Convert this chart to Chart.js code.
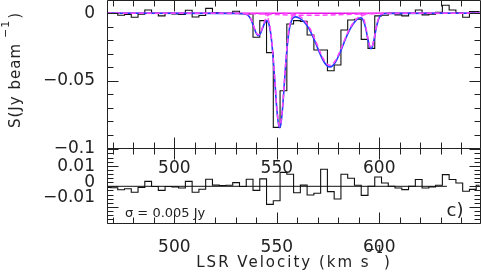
<!DOCTYPE html>
<html>
<head>
<meta charset="utf-8">
<script src="https://cdn.jsdelivr.net/npm/chart.js@4.4.1/dist/chart.umd.min.js"></script>
<style>
  html, body { margin: 0; padding: 0; background: #fff; }
  #wrap { position: relative; width: 481px; height: 273px; }
  #wrap canvas { position: absolute; left: 0; top: 0; }
</style>
</head>
<body>
<div id="wrap">
  <canvas id="specChart" width="481" height="273"></canvas>
  <canvas id="residChart" width="481" height="273"></canvas>
</div>
<script>
// channel centres (km/s)
const velocity = [467.45, 470.75, 474.05, 477.35, 480.65, 483.95, 487.25, 490.55, 493.85, 497.15,
  500.45, 503.75, 507.05, 510.35, 513.65, 516.95, 520.25, 523.55, 526.85, 530.15,
  533.45, 536.75, 540.05, 543.35, 546.65, 549.95, 553.25, 556.55, 559.85, 563.15,
  566.45, 569.75, 573.05, 576.35, 579.65, 582.95, 586.25, 589.55, 592.85, 596.15,
  599.45, 602.75, 606.05, 609.35, 612.65, 615.95, 619.25, 622.55, 625.85, 629.15,
  632.45, 635.75, 639.05, 642.35, 645.65, 648.95];

// observed spectrum (Jy/beam)
const spectrum = [0.0, 0.0, -0.0015, -0.001, -0.003, -0.0008, 0.0024, 0.0, -0.002, 0.0,
  -0.0005, -0.001, 0.0022, -0.0028, -0.0017, 0.0036, 0.0005, 0.0, 0.0, 0.0015,
  -0.0004, -0.0006, -0.0178, -0.0055, -0.0291, -0.0844, -0.0573, -0.008, -0.0055, -0.006,
  -0.0161, -0.0272, -0.0272, -0.0425, -0.0383, -0.0124, -0.005, -0.0045, -0.0193, -0.026,
  -0.002, -0.0015, 0.0, -0.0012, -0.002, 0.0, 0.0024, -0.0012, -0.0008, 0.0007,
  0.0059, 0.0024, 0.0004, -0.003, 0.0012, 0.0012];

// residuals (Jy/beam)
const residual = [-0.0005, -0.0007, -0.0017, -0.0012, -0.0029, -0.0005, 0.0024, -0.0001, -0.002, -0.0001,
  -0.0003, -0.0008, 0.0024, -0.0029, -0.0014, 0.0034, 0.0006, 0.0004, 0.0005, 0.0018,
  -0.0001, 0.0034, -0.002, 0.0036, -0.0088, -0.007, 0.0068, 0.0059, -0.0031, 0.0006,
  -0.0042, -0.0034, 0.0083, -0.0026, -0.0062, 0.0059, 0.0039, 0.0005, -0.0044, 0.0,
  0.0045, 0.0016, 0.0, -0.0008, -0.0016, 0.0, 0.0033, -0.0008, -0.0003, 0.0005,
  0.0057, 0.0033, 0.0016, -0.0024, -0.0015, 0.0005];

// total fit (blue)
const fitVelocity = [467, 520, 530, 534, 536, 537.5, 539, 540, 541, 542, 543, 544, 545, 546, 547, 548, 549, 550,
  550.8, 551.4, 552, 552.8, 553.8, 554.8, 556, 557.5, 559, 561, 563, 565, 567, 569, 571, 573, 574.5,
  575.9, 577.3, 579, 581, 583, 585, 587, 589, 591, 592.5, 593.5, 594.5, 595.3, 596, 596.7, 597.5,
  598.5, 599.5, 601, 603, 610, 649];
const fitFlux = [0, -0.0001, -0.0002, -0.0004, -0.0016, -0.0049, -0.0111, -0.0149, -0.0166, -0.015, -0.0113,
  -0.0075, -0.0055, -0.0073, -0.0146, -0.029, -0.0494, -0.0704, -0.0817, -0.0846, -0.0818, -0.0705,
  -0.0497, -0.0293, -0.0128, -0.0043, -0.0027, -0.0036, -0.0059, -0.0097, -0.0152, -0.0222, -0.0297,
  -0.0359, -0.0388, -0.0398, -0.0388, -0.0352, -0.0286, -0.021, -0.014, -0.0086, -0.0048, -0.0034,
  -0.0063, -0.0119, -0.0196, -0.0245, -0.0262, -0.0244, -0.0193, -0.0112, -0.0051, -0.001, -0.0002,
  -0.0001, 0];

// single components (magenta dashed), [velocity, flux]
const compNarrow = [[534, 0], [536, -0.0012], [537.5, -0.0045], [539, -0.0106], [540, -0.0144], [541, -0.016],
  [542, -0.0144], [543, -0.0106], [544, -0.0063], [545, -0.0031], [546, -0.0012], [547, -0.0004], [549, 0]];
const compDeep = [[543, -0.0001], [544, -0.0005], [545, -0.0017], [546, -0.0053], [547, -0.0134], [548, -0.028],
  [549, -0.0485], [550, -0.0694], [550.8, -0.0807], [551.4, -0.0835], [552, -0.0807], [552.8, -0.0694],
  [553.8, -0.0485], [554.8, -0.028], [556, -0.0113], [557.5, -0.0025], [559, -0.0004], [561, 0]];
const compBroad = [[553, 0], [556, -0.0002], [559, -0.0009], [561, -0.0021], [563, -0.0044], [565, -0.0082],
  [567, -0.0137], [569, -0.0207], [571, -0.0282], [573, -0.0345], [574.5, -0.0375], [575.9, -0.0385],
  [577.3, -0.0375], [579, -0.034], [581, -0.0275], [583, -0.02], [585, -0.0131], [587, -0.0078],
  [589, -0.0041], [591, -0.002], [593.5, -0.0007], [597, -0.0002], [600, 0]];
const compRed = [[590, 0], [591, -0.0008], [592.5, -0.0047], [593.5, -0.0107], [594.5, -0.0187], [595.3, -0.0238],
  [596, -0.0255], [596.7, -0.0238], [597.5, -0.0187], [598.5, -0.0107], [599.5, -0.0047], [601, -0.0008], [602, 0]];
const compWide = [[467, 0], [520, -0.0001], [530, -0.0002], [540, -0.0005], [550, -0.001], [558, -0.0014],
  [566, -0.0015], [574, -0.0014], [582, -0.001], [592, -0.0005], [602, -0.0002], [612, -0.0001], [649, 0]];

const baselineVel = [467.4, 649.4];
const residLineVel = [467.4, 633];

const xTicks = [500, 550, 600];
const specTicks = [-0.1, -0.05, 0];
const residTicks = [-0.01, 0, 0.01];

const X_MIN = 467.4, X_MAX = 649.4;
const FONT = "'DejaVu Sans', sans-serif";
const INK = '#222';

function pairs(list) {
    return list.map(p => ({ x: p[0], y: p[1] }));
}

function fmt(v) {
    if (v === 0) return '0';
    return (v < 0 ? '\u2212' : '') + String(Math.abs(v));
}

// frame + inward tick marks
const framePlugin = {
    id: 'frame',
    afterDatasetsDraw(chart, args, opts) {
        const { ctx, chartArea: a, scales } = chart;
        const xs = scales.x, ys = scales.y;
        ctx.save();
        ctx.strokeStyle = INK;
        ctx.lineWidth = 1;
        ctx.beginPath();
        ctx.rect(a.left, a.top, a.right - a.left, a.bottom - a.top);
        for (let k = 47; k <= 64; k++) {
            const v = k * 10;
            const len = v % 50 === 0 ? 11 : 6;
            const px = Math.round(xs.getPixelForValue(v)) + 0.5;
            ctx.moveTo(px, a.top); ctx.lineTo(px, a.top + len);
            ctx.moveTo(px, a.bottom); ctx.lineTo(px, a.bottom - len);
        }
        for (let k = opts.from; k <= opts.to; k++) {
            const len = k % opts.majorEvery === 0 ? 11 : 6;
            const py = Math.round(ys.getPixelForValue(k * opts.step)) + 0.5;
            ctx.moveTo(a.left, py); ctx.lineTo(a.left + len, py);
            ctx.moveTo(a.right, py); ctx.lineTo(a.right - len, py);
        }
        ctx.stroke();
        ctx.restore();
    }
};

// axis titles and panel notes
const textPlugin = {
    id: 'notes',
    afterDraw(chart) {
        const { ctx, chartArea: a } = chart;
        ctx.save();
        ctx.fillStyle = INK;
        ctx.textAlign = 'left';
        ctx.textBaseline = 'alphabetic';

        // x title
        const main = 'LSR Velocity (km s';
        ctx.font = '15px ' + FONT;
        ctx.letterSpacing = '2px';
        const wMain = ctx.measureText(main).width;
        const wParen = ctx.measureText(')').width;
        ctx.font = '11px ' + FONT;
        ctx.letterSpacing = '1px';
        const wSup = ctx.measureText('\u22121').width;
        const total = wMain - 5 + wSup + wParen;
        let x0 = (a.left + a.right) / 2 - total / 2;
        ctx.font = '15px ' + FONT;
        ctx.letterSpacing = '2px';
        ctx.fillText(main, x0, 266.5);
        ctx.font = '11px ' + FONT;
        ctx.letterSpacing = '1px';
        ctx.fillText('\u22121', x0 + wMain - 5, 253);
        ctx.font = '15px ' + FONT;
        ctx.letterSpacing = '2px';
        ctx.fillText(')', x0 + wMain - 5 + wSup, 266.5);

        // y title
        ctx.save();
        ctx.translate(19.5, 128);
        ctx.rotate(-Math.PI / 2);
        ctx.font = '15px ' + FONT;
        ctx.letterSpacing = '1px';
        const yMain = 'S(Jy beam';
        const wy = ctx.measureText(yMain).width;
        ctx.fillText(yMain, 0, 0);
        ctx.font = '11px ' + FONT;
        const wys = ctx.measureText('\u22121').width;
        ctx.fillText('\u22121', wy + 5, -11);
        ctx.font = '15px ' + FONT;
        ctx.fillText(')', wy + 6 + wys, 0);
        ctx.restore();

        ctx.letterSpacing = '0px';
        ctx.font = '13px ' + FONT;
        ctx.fillText('\u03c3 = 0.005 Jy', a.left + 17.5, 217);
        ctx.font = '18px ' + FONT;
        ctx.fillText('c)', a.right - 34, 216);
        ctx.restore();
    }
};

function xScale(pad) {
    return {
        type: 'linear',
        min: X_MIN,
        max: X_MAX,
        bounds: 'data',
        grid: { display: false, drawTicks: false },
        border: { display: false },
        ticks: { font: { family: FONT, size: 17 }, color: INK, padding: pad, maxRotation: 0,
            callback: v => String(v) },
        afterBuildTicks: s => { s.ticks = xTicks.map(v => ({ value: v })); },
        afterFit: s => { s.height = 40; s.paddingLeft = 0; s.paddingRight = 0; }
    };
}

function yScale(min, max, ticks) {
    return {
        type: 'linear',
        position: 'left',
        min: min,
        max: max,
        bounds: 'data',
        grid: { display: false, drawTicks: false },
        border: { display: false },
        ticks: { font: { family: FONT, size: 17 }, color: INK, padding: 12.5,
            callback: v => fmt(v) },
        afterBuildTicks: s => { s.ticks = ticks.map(v => ({ value: v })); },
        afterFit: s => { s.width = 107.5; s.paddingTop = 0; s.paddingBottom = 0; }
    };
}

const dashed = {
    borderColor: 'rgb(255, 70, 255)',
    borderWidth: 1.5,
    borderDash: [5, 3],
    pointRadius: 0,
    cubicInterpolationMode: 'monotone',
    fill: false
};

// spectrum panel
new Chart(document.getElementById('specChart'), {
    type: 'line',
    data: {
        datasets: [
            { ...dashed, data: pairs(compNarrow) },
            { ...dashed, data: pairs(compDeep) },
            { ...dashed, data: pairs(compBroad) },
            { ...dashed, data: pairs(compRed) },
            { ...dashed, data: pairs(compWide) },
            {
                data: fitVelocity.map((v, i) => ({ x: v, y: fitFlux[i] })),
                borderColor: 'rgb(35, 60, 255)',
                borderWidth: 1.6,
                pointRadius: 0,
                cubicInterpolationMode: 'monotone'
            },
            {
                data: baselineVel.map(v => ({ x: v, y: 0 })),
                borderColor: 'rgb(230, 20, 230)',
                borderWidth: 1.5,
                pointRadius: 0
            },
            {
                data: velocity.map((v, i) => ({ x: v, y: spectrum[i] })),
                borderColor: '#111',
                borderWidth: 1.1,
                pointRadius: 0,
                stepped: 'middle'
            }
        ]
    },
    options: {
        responsive: false,
        animation: false,
        devicePixelRatio: 1,
        events: [],
        layout: { autoPadding: false, padding: { left: 0, right: 0.5, top: 0.5, bottom: 84.5 } },
        plugins: {
            legend: { display: false },
            tooltip: { enabled: false },
            frame: { step: 0.01, from: -10, to: 0, majorEvery: 5 }
        },
        scales: {
            x: xScale(9.8),
            y: yScale(-0.1, 0.0094, specTicks)
        }
    },
    plugins: [framePlugin]
});

// residual panel: data scale 'y' (hidden), labels on 'yl' as printed in the original
new Chart(document.getElementById('residChart'), {
    type: 'line',
    data: {
        datasets: [
            {
                data: residLineVel.map(v => ({ x: v, y: 0 })),
                borderColor: '#111',
                borderWidth: 1,
                pointRadius: 0
            },
            {
                data: velocity.map((v, i) => ({ x: v, y: residual[i] })),
                borderColor: '#111',
                borderWidth: 1.1,
                pointRadius: 0,
                stepped: 'middle'
            }
        ]
    },
    options: {
        responsive: false,
        animation: false,
        devicePixelRatio: 1,
        events: [],
        layout: { autoPadding: false, padding: { left: 0, right: 0.5, top: 148.5, bottom: 9.5 } },
        plugins: {
            legend: { display: false },
            tooltip: { enabled: false },
            frame: { step: 0.002, from: -9, to: 9, majorEvery: 5 }
        },
        scales: {
            x: xScale(14),
            y: { type: 'linear', display: false, min: -0.0181, max: 0.0184 },
            yl: yScale(-0.0271, 0.0221, residTicks)
        }
    },
    plugins: [framePlugin, textPlugin]
});
</script>
</body>
</html>
